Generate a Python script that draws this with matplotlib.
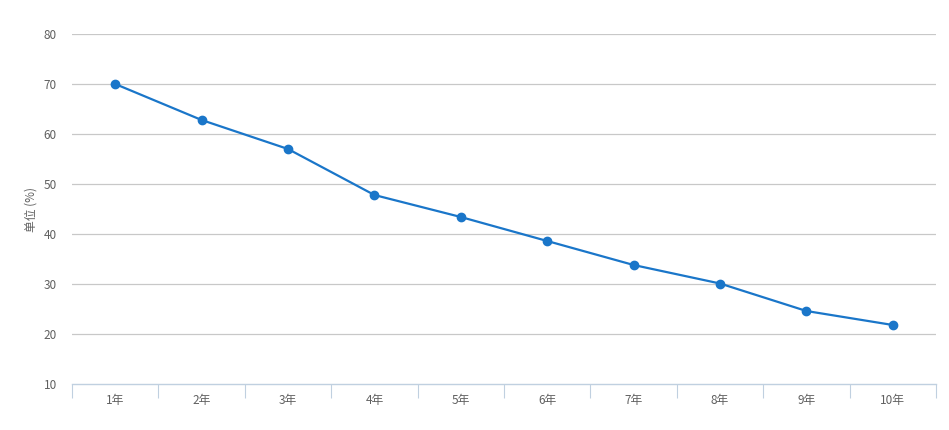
import numpy as np
import matplotlib.pyplot as plt

plt.rcParams['font.family'] = ['Noto Sans CJK SC', 'DejaVu Sans']

# 데이터
categories = ['1年', '2年', '3年', '4年', '5年', '6年', '7年', '8年', '9年', '10年']
values = [70, 62.8, 57, 47.8, 43.4, 38.6, 33.8, 30.1, 24.6, 21.8]
y_ticks = [10, 20, 30, 40, 50, 60, 70, 80]

W, H = 949, 430
fig = plt.figure(figsize=(W / 100, H / 100), dpi=100)
ax = fig.add_axes([72 / W, (H - 384) / H, (936 - 72) / W, (384 - 34) / H])

x = np.arange(len(categories)) + 0.5
ax.plot(x, values, color='#1a76c9', linewidth=1.6, marker='o', markersize=6,
        zorder=3, clip_on=False)

ax.set_xlim(0, len(categories))
ax.set_ylim(10, 80)

# 그리드
ax.set_yticks(y_ticks)
for t in y_ticks[1:]:
    ax.axhline(t, color='#c8c8c8', linewidth=0.9, zorder=1)

ax.spines['left'].set_color('none')
ax.spines['right'].set_color('none')
ax.spines['top'].set_color('none')
ax.spines['bottom'].set_color('#c0d0e0')
ax.spines['bottom'].set_linewidth(1)

ax.tick_params(axis='y', length=0, pad=11, labelsize=8.5, labelcolor='#606060')

ax.set_xticks(np.arange(len(categories) + 1))
ax.set_xticklabels([])
ax.tick_params(axis='x', which='major', length=10, color='#c0d0e0', direction='out')
ax.set_xticks(x, minor=True)
ax.set_xticklabels(categories, minor=True)
ax.tick_params(axis='x', which='minor', length=0, pad=7, labelsize=8.5, labelcolor='#606060')

ax.set_ylabel('单位 (%)', fontsize=8.5, color='#606060', labelpad=4)

fig.savefig('out.png', dpi=100)
